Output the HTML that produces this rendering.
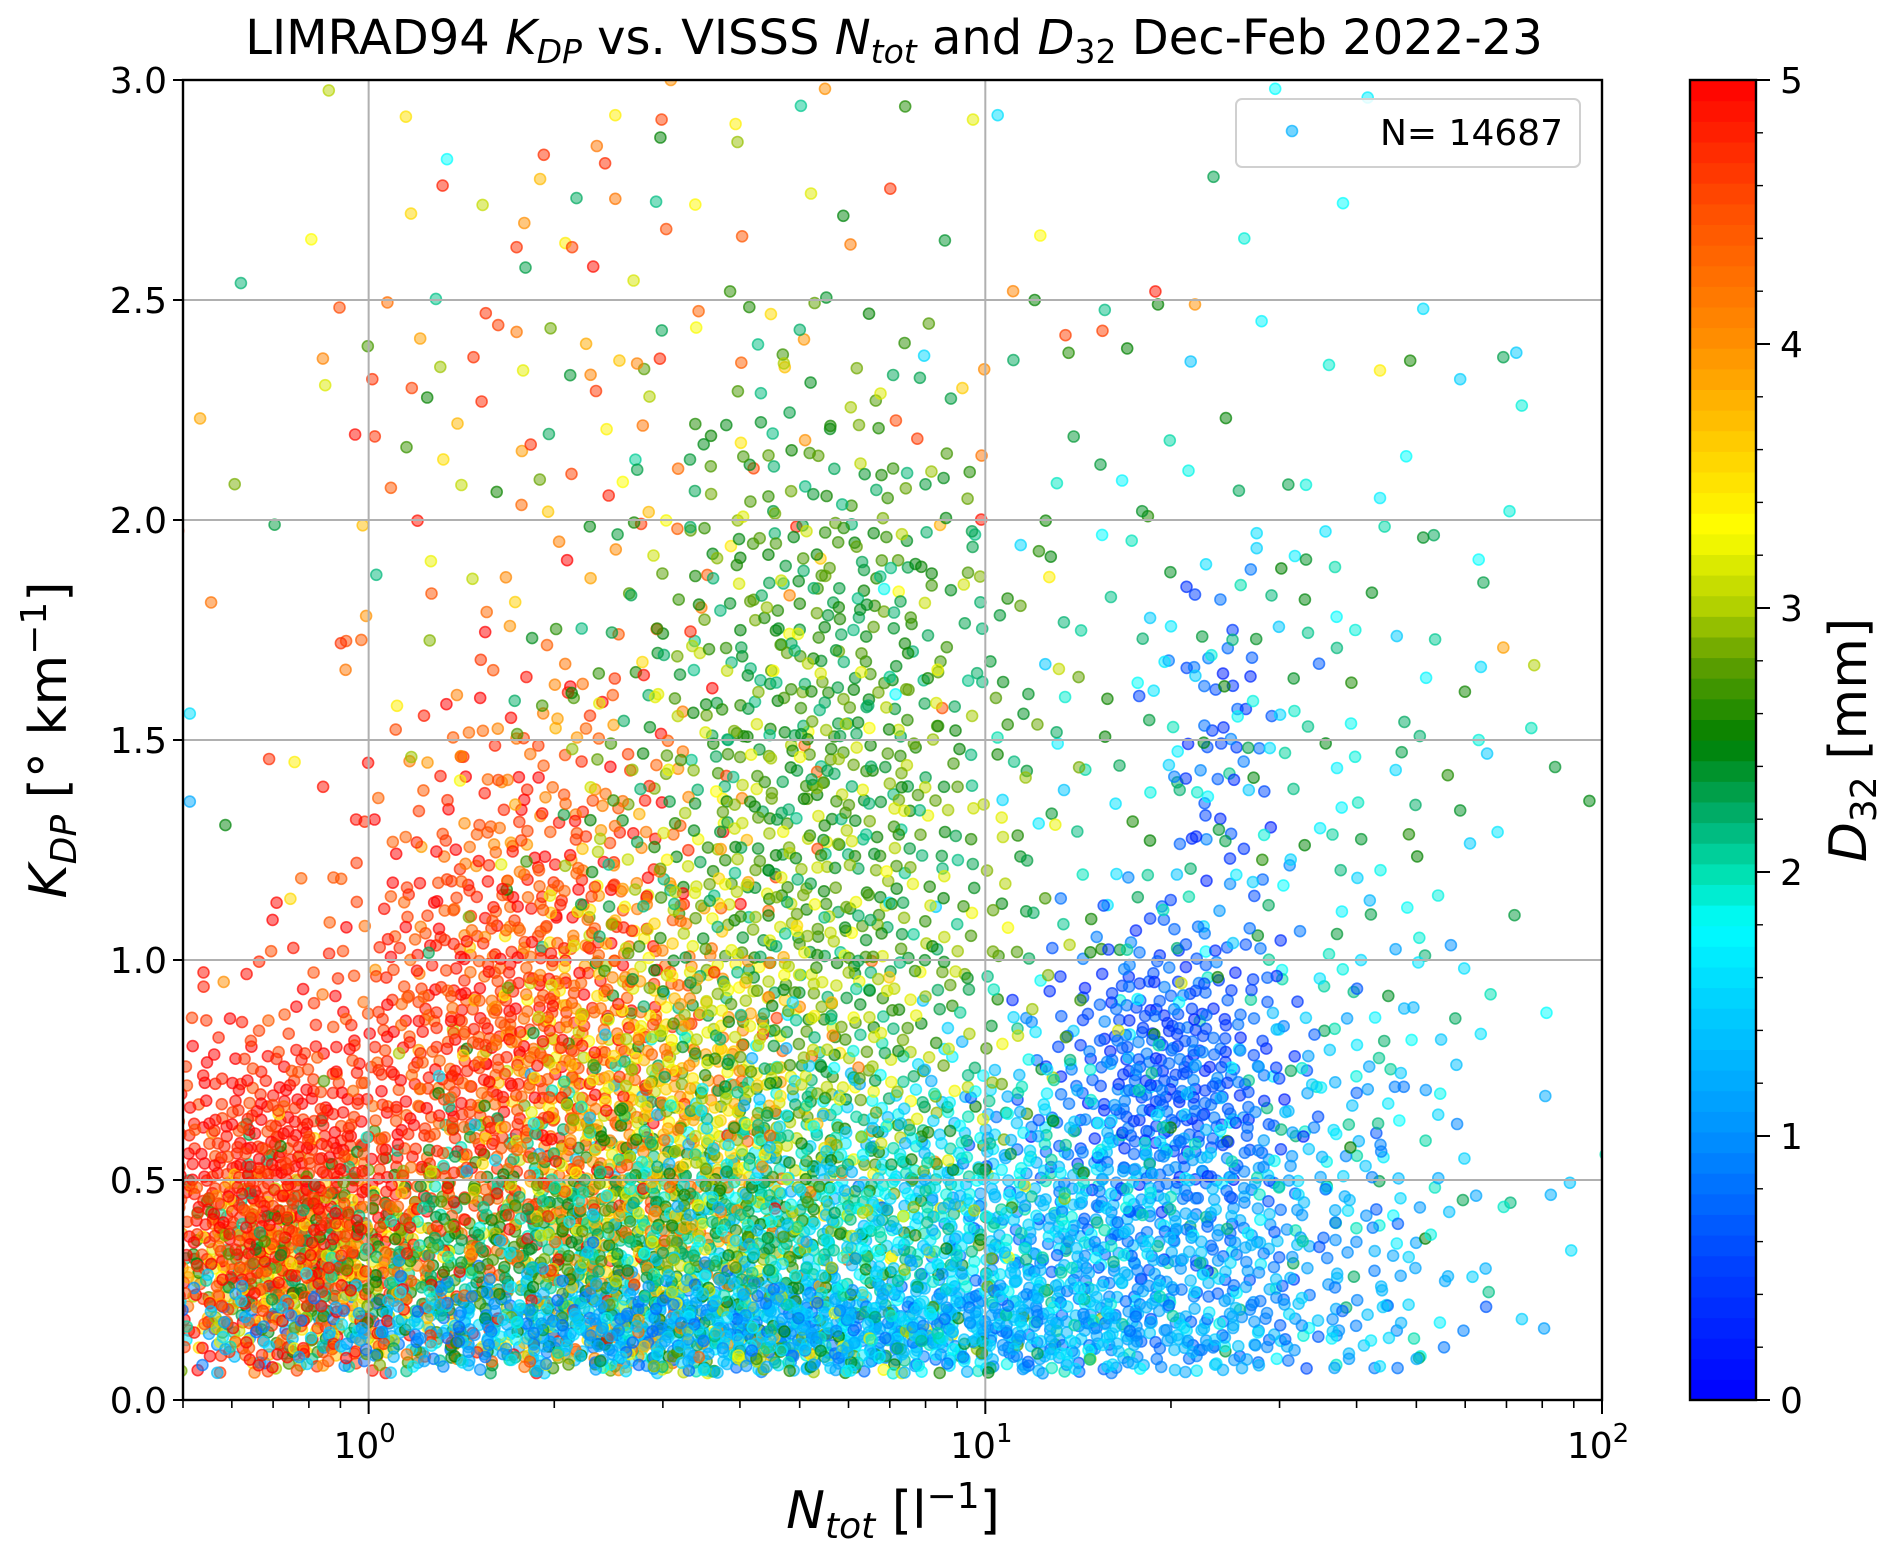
<!DOCTYPE html>
<html><head><meta charset="utf-8"><style>
html,body{margin:0;padding:0;background:#fff;}
svg{display:block;font-family:"DejaVu Sans","Liberation Sans",sans-serif;}
</style></head><body>
<svg id="chart" width="1892" height="1558" viewBox="0 0 1892 1558" xmlns="http://www.w3.org/2000/svg">
<defs><clipPath id="plotclip"><rect x="183" y="80" width="1419" height="1320"/></clipPath></defs>
<rect x="0" y="0" width="1892" height="1558" fill="#fff"/>
<text x="894" y="54" font-size="48" text-anchor="middle">LIMRAD94 <tspan font-style="italic">K</tspan><tspan font-style="italic" font-size="33" dy="9">DP</tspan><tspan dy="-9"> vs. VISSS </tspan><tspan font-style="italic">N</tspan><tspan font-style="italic" font-size="33" dy="9">tot</tspan><tspan dy="-9"> and </tspan><tspan font-style="italic">D</tspan><tspan font-size="33" dy="9">32</tspan><tspan dy="-9"> Dec-Feb 2022-23</tspan></text>
<g id="points" clip-path="url(#plotclip)"></g>
<g id="grid"></g>
<rect x="183" y="80" width="1419" height="1320" fill="none" stroke="#000" stroke-width="2.4"/>
<g id="axes"></g>
<g>
<rect x="1236" y="99" width="344" height="68" rx="6" fill="#fff" fill-opacity="0.85" stroke="#d0d0d0" stroke-width="2"/>
<circle cx="1292" cy="131" r="5.5" fill="#00b0ff" fill-opacity="0.55" stroke="#00b0ff" stroke-opacity="0.7" stroke-width="1.6"/>
<text x="1380" y="145" font-size="36">N= 14687</text>
</g>
<g id="cbar"></g>
<text x="893" y="1528" font-size="52" text-anchor="middle"><tspan font-style="italic">N</tspan><tspan font-style="italic" font-size="36" dy="10">tot</tspan><tspan dy="-10"> [l</tspan><tspan font-size="36" dy="-20">−1</tspan><tspan dy="20">]</tspan></text>
<text transform="translate(66,740) rotate(-90)" font-size="52" text-anchor="middle"><tspan font-style="italic">K</tspan><tspan font-style="italic" font-size="36" dy="10">DP</tspan><tspan dy="-10"> [° km</tspan><tspan font-size="36" dy="-20">−1</tspan><tspan dy="20">]</tspan></text>
<text transform="translate(1866,740) rotate(-90)" font-size="52" text-anchor="middle"><tspan font-style="italic">D</tspan><tspan font-size="36" dy="10">32</tspan><tspan dy="-10"> [mm]</tspan></text>
</svg>
<script>
// cluster data: centre log10(N), centre Kdp, spread in log10(N), spread in Kdp, count, mean D32, D32 spread
const clusterLogN  = [-0.15,0.2,0.3,0.45,0.7,0.75,-0.1,0.6,0.85,0.35,1.3,1.25,1.4,1.38,0.4,1.6];
const clusterKdp   = [0.45,0.75,1.2,0.6,0.9,1.7,0.3,0.17,0.4,0.35,0.75,0.35,1.4,1.5,2.2,0.6];
const clusterSdN   = [0.12,0.15,0.15,0.15,0.2,0.15,0.15,0.45,0.3,0.25,0.1,0.2,0.25,0.05,0.35,0.12];
const clusterSdK   = [0.2,0.3,0.3,0.3,0.5,0.35,0.12,0.06,0.2,0.15,0.18,0.18,0.45,0.2,0.4,0.3];
const clusterCount = [700,700,250,700,1000,300,500,1000,1000,700,350,500,200,50,150,120];
const clusterD32   = [4.85,4.7,4.5,3.7,2.7,2.5,3.2,1.2,1.7,2.4,0.6,1.0,2.0,0.6,3.5,1.6];
const clusterD32sd = [0.3,0.35,0.5,0.6,0.5,0.3,1.0,0.4,0.4,0.4,0.3,0.35,0.5,0.3,1.2,0.6];
// individually read outlier points
const outLogN = [0.12,0.127,0.284,0.37,0.4,0.475,0.49,0.74,0.595,0.87,0.98,1.02,1.47,1.62,1.58,1.37,1.42,1.84,1.87,1.85,1.8,1.89,1.84,1.91,1.95,1.79,1.77,1.71,1.64,1.71,1.77,1.75,1.8,-0.29,-0.29,-0.045,-0.12,0.006,0.01,0.07,0.17,0.19,0.24,0.33,0.4,0.36,1.045,1.13,1.19,1.135,1.08,1.23,1.28,1.34,1.64,1.48,1.52,1.52,1.44,1.5,1.6];
const outKdp  = [2.76,2.82,2.83,2.85,2.92,2.91,3.0,2.98,2.9,2.94,2.91,2.92,2.98,2.96,2.72,2.78,2.64,2.37,2.26,2.02,1.91,1.67,1.71,0.88,0.34,0.28,2.32,2.48,2.34,1.96,1.34,1.42,1.5,1.56,1.36,1.72,1.45,2.32,2.19,2.3,2.37,2.47,2.62,2.62,2.73,2.33,2.52,2.42,2.43,2.38,2.5,2.39,2.49,2.49,2.05,1.89,2.08,1.91,1.97,1.64,1.75];
const outD32  = [4.8,1.8,4.7,4.2,3.4,4.6,4.0,4.0,3.4,2.6,3.2,1.6,1.8,1.7,1.8,2.3,1.9,2.3,1.9,1.9,1.8,3.0,3.9,1.8,1.6,1.5,1.5,1.6,3.4,2.4,2.4,2.6,1.9,1.6,1.2,4.7,3.4,4.7,4.7,4.6,4.7,4.7,4.7,4.6,4.2,4.1,4.1,4.6,4.6,2.6,2.5,2.5,2.5,4.0,1.7,2.5,1.9,2.4,1.6,2.4,1.9];
const yTicks = [0.0,0.5,1.0,1.5,2.0,2.5,3.0];
const xTickExp = [0,1,2];
const cbTicks = [0,1,2,3,4,5];

const NS='http://www.w3.org/2000/svg';
const X0=183,X1=1602,Y0=1400,Y1=80;
const LMIN=Math.log10(0.5),LMAX=2,KMAX=3;
function xs(l){return X0+(l-LMIN)/(LMAX-LMIN)*(X1-X0);}
function ys(k){return Y0-k/KMAX*(Y0-Y1);}
const stops=[[0,[0,0,255]],[0.5,[0,64,255]],[1,[0,144,255]],[1.5,[0,208,255]],[1.8,[0,255,255]],[2.0,[0,224,176]],[2.2,[0,176,112]],[2.5,[0,128,0]],[2.8,[96,160,0]],[3.0,[176,208,0]],[3.3,[255,255,0]],[3.7,[255,192,0]],[4.0,[255,144,0]],[4.5,[255,80,0]],[5,[255,0,0]]];
function cmap(d){d=Math.max(0,Math.min(5,d));for(let i=1;i<stops.length;i++){if(d<=stops[i][0]){const a=stops[i-1],b=stops[i],t=(d-a[0])/(b[0]-a[0]);const c=a[1].map((v,j)=>Math.round(v+(b[1][j]-v)*t));return 'rgb('+c.join(',')+')';}}return 'rgb(255,0,0)';}
function halton(i,b){let f=1,r=0;while(i>0){f/=b;r+=f*(i%b);i=Math.floor(i/b);}return r;}
function el(tag,attrs,parent){const e=document.createElementNS(NS,tag);for(const k in attrs)e.setAttribute(k,attrs[k]);parent.appendChild(e);return e;}
const gp=document.getElementById('points');
function dot(l,k,d){const c=cmap(d);const e=el('circle',{cx:xs(l).toFixed(1),cy:ys(k).toFixed(1),r:5.5,fill:c,'fill-opacity':0.5,stroke:c,'stroke-opacity':0.7,'stroke-width':1.6},gp);

}
const maxN=Math.max(...clusterCount);
for(let i=1;i<=maxN;i++){for(let c=0;c<clusterCount.length;c++){if(i>clusterCount[c])continue;const j=i+c*1237;
const u1=Math.max(1e-4,halton(j,2)),u2=halton(j,3);const r=Math.sqrt(-2*Math.log(u1));
const l=clusterLogN[c]+clusterSdN[c]*r*Math.cos(2*Math.PI*u2);let k=clusterKdp[c]+clusterSdK[c]*r*Math.sin(2*Math.PI*u2);
if(k<0.06)k=0.06+0.1*halton(j,7);const d=clusterD32[c]+clusterD32sd[c]*(halton(j,5)-0.5)*2.4;dot(l,k,d);}}
for(let i=0;i<outLogN.length;i++)dot(outLogN[i],outKdp[i],outD32[i]);

const gg=document.getElementById('grid'),ga=document.getElementById('axes');
yTicks.forEach(v=>{const y=ys(v);
if(v>0&&v<3){const g=el('line',{x1:X0,x2:X1,y1:y,y2:y,stroke:'#b0b0b0','stroke-width':2},gg);

}
el('line',{x1:X0-10,x2:X0,y1:y,y2:y,stroke:'#000','stroke-width':2},ga);
const t=el('text',{x:X0-16,y:y+13,'font-size':36,'text-anchor':'end'},ga);t.textContent=v.toFixed(1);

});
xTickExp.forEach(e=>{const x=xs(e);
if(e<2){const g=el('line',{x1:x,x2:x,y1:Y0,y2:Y1,stroke:'#b0b0b0','stroke-width':2},gg);

}
el('line',{x1:x,x2:x,y1:Y0,y2:Y0+14,stroke:'#000','stroke-width':2},ga);
const t=el('text',{x:x-4,y:Y0+58,'font-size':36,'text-anchor':'middle'},ga);


t.innerHTML='10<tspan font-size="26" dy="-16">'+e+'</tspan>';});
for(let e=-1;e<2;e++)for(let m=2;m<10;m++){const l=e+Math.log10(m);if(l<LMIN||l>LMAX)continue;const x=xs(l);el('line',{x1:x,x2:x,y1:Y0,y2:Y0+8,stroke:'#000','stroke-width':1.6},ga);}

const cb=document.getElementById('cbar');const CX=1690,CW=66,nb=64;
for(let i=0;i<nb;i++){const y0=Y0-(i+1)*(Y0-Y1)/nb;el('rect',{x:CX,y:y0.toFixed(2),width:CW,height:((Y0-Y1)/nb+0.6).toFixed(2),fill:cmap((i+0.5)*5/nb)},cb);}
el('rect',{x:CX,y:Y1,width:CW,height:Y0-Y1,fill:'none',stroke:'#000','stroke-width':2.4},cb);
cbTicks.forEach(v=>{const y=Y0-v/5*(Y0-Y1);el('line',{x1:CX+CW,x2:CX+CW+14,y1:y,y2:y,stroke:'#000','stroke-width':2},cb);
const t=el('text',{x:CX+CW+24,y:y+13,'font-size':36},cb);t.textContent=v;

});
for(let v=0.2;v<5;v+=0.2){if(Math.abs(v-Math.round(v))<0.01)continue;const y=Y0-v/5*(Y0-Y1);el('line',{x1:CX+CW,x2:CX+CW+7,y1:y,y2:y,stroke:'#000','stroke-width':1.4},cb);}
</script>
</body></html>
